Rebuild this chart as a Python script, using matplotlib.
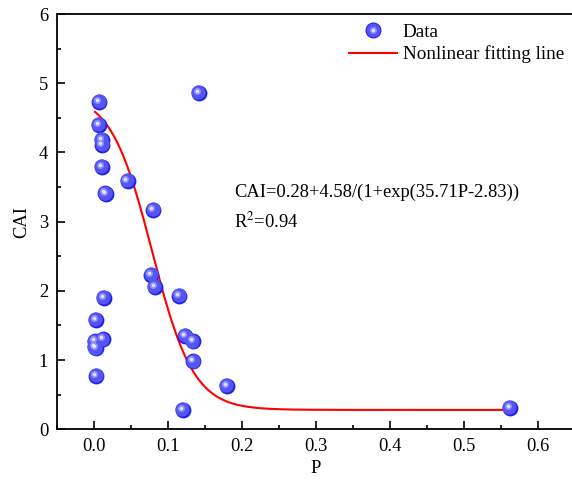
import numpy as np
import matplotlib.pyplot as plt
from matplotlib.lines import Line2D
from matplotlib.legend_handler import HandlerTuple
from matplotlib.transforms import offset_copy

plt.rcParams['font.family'] = ['Liberation Serif', 'DejaVu Serif']
plt.rcParams['mathtext.fontset'] = 'stix'

# data
p_vals = [0.008, 0.007, 0.011, 0.012, 0.011, 0.016, 0.017, 0.046, 0.081, 0.078,
          0.083, 0.116, 0.124, 0.134, 0.135, 0.121, 0.180, 0.142, 0.014, 0.003,
          0.013, 0.002, 0.002, 0.003, 0.004, 0.563]
cai_vals = [4.73, 4.40, 4.18, 4.11, 3.79, 3.41, 3.40, 3.59, 3.17, 2.23,
            2.06, 1.93, 1.35, 1.27, 0.98, 0.28, 0.63, 4.86, 1.90, 1.58,
            1.30, 1.27, 1.19, 1.17, 0.77, 0.31]

# fitted model: CAI = a + b/(1+exp(c*P - d))
fit_a, fit_b, fit_c, fit_d = 0.28, 4.58, 35.71, 2.83
eq_text = 'CAI=0.28+4.58/(1+exp(35.71P-2.83))'
r2_text = 'R$^2$=0.94'

x_ticks = [0.0, 0.1, 0.2, 0.3, 0.4, 0.5, 0.6]
y_ticks = [0, 1, 2, 3, 4, 5, 6]


def sphere(ax, x, y, s=130):
    # fake 3D ball: dark base, lighter body shifted up-left, small highlight
    ax.scatter(x, y, s=s, c='#2020ee', linewidths=0, zorder=3)
    t1 = offset_copy(ax.transData, fig=ax.figure, x=-0.5, y=0.5, units='points')
    ax.scatter(x, y, s=s * 0.8, c='#5555f2', linewidths=0, zorder=4, transform=t1)
    t2 = offset_copy(ax.transData, fig=ax.figure, x=-1.5, y=1.5, units='points')
    ax.scatter(x, y, s=s * 0.2, c='#8f8ff8', linewidths=0, zorder=5, transform=t2)
    ax.scatter(x, y, s=s * 0.05, c='#e0e0ff', linewidths=0, zorder=6, transform=t2)


fig = plt.figure(figsize=(5.72, 4.9), dpi=100)
ax = fig.add_axes([0.0988, 0.1239, 0.9056, 0.8475])

sphere(ax, p_vals, cai_vals)

p_fit = np.linspace(min(p_vals), max(p_vals), 400)
cai_fit = fit_a + fit_b / (1 + np.exp(fit_c * p_fit - fit_d))
ax.plot(p_fit, cai_fit, color='red', lw=1.5, zorder=2)

ax.set_xlim(-0.05, 0.65)
ax.set_ylim(0, 6)
ax.set_xticks(x_ticks)
ax.set_yticks(y_ticks)
ax.set_xticks(np.arange(-0.05, 0.66, 0.05), minor=True)
ax.set_yticks(np.arange(0, 6.01, 0.5), minor=True)
ax.tick_params(which='both', direction='in', labelsize=13.3, width=1.2, pad=6)
ax.tick_params(which='major', length=6)
ax.tick_params(which='minor', length=3)
ax.tick_params(top=False, right=False)
for sp in ax.spines.values():
    sp.set_linewidth(1.3)
ax.spines['right'].set_visible(False)

ax.set_xlabel('P', fontsize=13.3, labelpad=4)
ax.set_ylabel('CAI', fontsize=13.3, labelpad=6)

ax.text(0.19, 3.42, eq_text, fontsize=13.3, va='center')
ax.text(0.19, 3.0, r2_text, fontsize=13.3, va='center')

h_data = (Line2D([], [], marker='o', ls='none', ms=11.5, mfc='#2020ee', mec='none'),
          Line2D([], [], marker='o', ls='none', ms=10, mfc='#5555f2', mec='none'),
          Line2D([], [], marker='o', ls='none', ms=5, mfc='#8f8ff8', mec='none'),
          Line2D([], [], marker='o', ls='none', ms=2.5, mfc='#e0e0ff', mec='none'))
h_line = Line2D([], [], color='red', lw=1.5)
ax.legend([h_data, h_line], ['Data', 'Nonlinear fitting line'],
          handler_map={tuple: HandlerTuple(ndivide=1, pad=0)},
          loc='upper left', bbox_to_anchor=(0.565, 0.978), frameon=False,
          fontsize=13.8, handlelength=2.5, handletextpad=0.3, labelspacing=0.25,
          borderpad=0, borderaxespad=0)

fig.savefig('out.png', dpi=100)
